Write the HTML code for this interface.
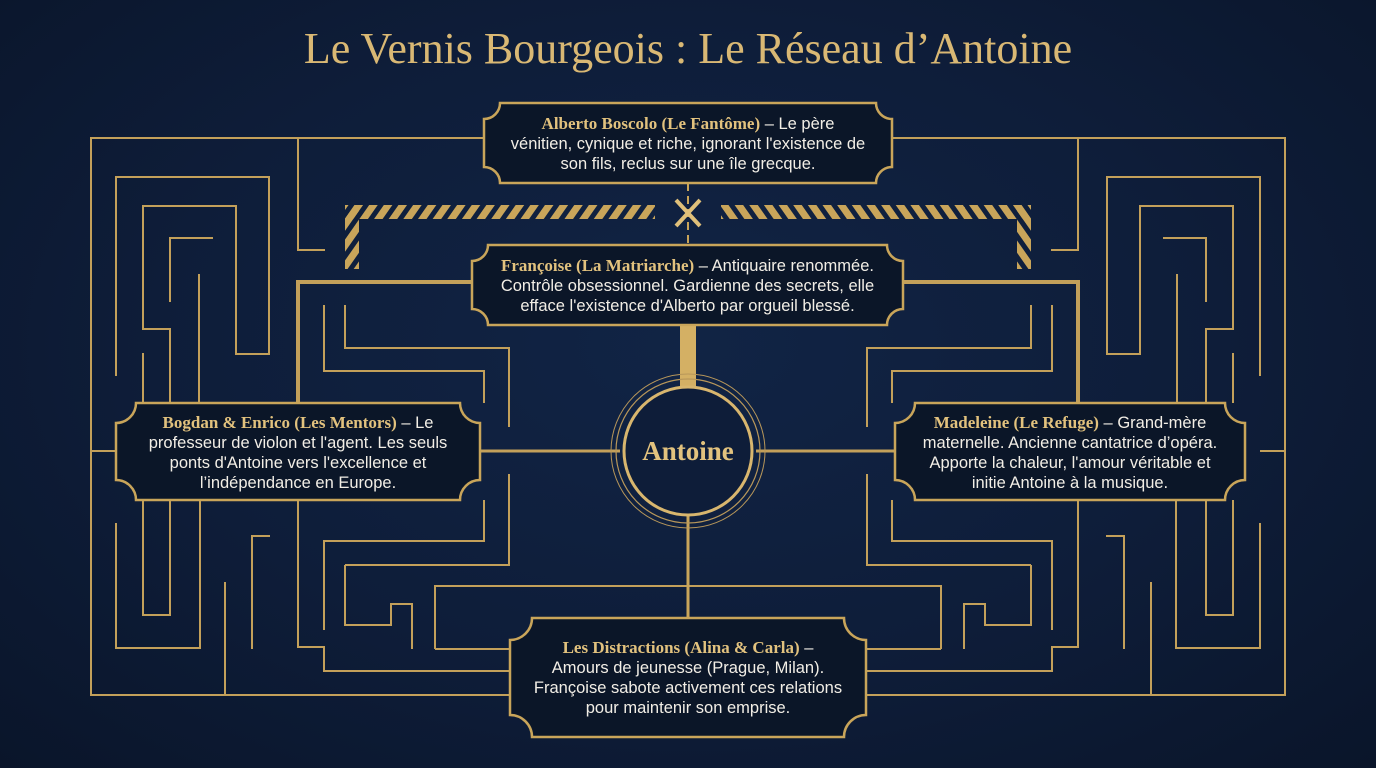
<!DOCTYPE html>
<html><head><meta charset="utf-8">
<style>
html,body{margin:0;padding:0;width:1376px;height:768px;overflow:hidden;background:#0c1a33;}
#bg{position:absolute;left:0;top:0;width:1376px;height:768px;background:radial-gradient(ellipse at 50% 45%,#112445 0%,#0e1d39 55%,#0a152a 100%);}
.t{position:absolute;color:#f2eee6;font-family:"Liberation Sans Narrow","Liberation Sans",sans-serif;font-size:16.5px;line-height:20px;text-align:center;}
.t b{font-family:"Liberation Serif",serif;color:#e2c27e;font-weight:bold;font-size:17px;}
h1{position:absolute;left:0;top:23px;width:1376px;margin:0;text-align:center;font-family:"Liberation Serif",serif;font-weight:normal;font-size:44px;color:#d9b874;}
</style></head><body>
<div id="bg"></div>
<svg width="1376" height="768" style="position:absolute;left:0;top:0">
<defs>
<pattern id="hatch" width="12" height="12" patternUnits="userSpaceOnUse" patternTransform="rotate(35)">
<rect width="7" height="12" fill="#c9a55a"/>
</pattern>
</defs>
<g id="L" fill="none" stroke="#c3a05a" stroke-width="2">
<path d="M484 138 H91 V695 H515"/>
<path d="M298 138 V250 H325"/>
<path d="M116 376 V177 H269 V354 H236 V206 H143 V329 H170 V403"/>
<path d="M170 302 V238 H213"/>
<path d="M199 274 V403"/>
<path d="M143 353 V403"/>
<path d="M298 403 V282 H472" stroke-width="4"/>
<path d="M324 305 V371 H484 V403"/>
<path d="M345 305 V348 H509 V427"/>
<path d="M91 451 H116"/>
<path d="M480 451 H620" stroke-width="3"/>
<path d="M116 523 V648 H200 V500"/>
<path d="M143 500 V615 H170 V500"/>
<path d="M252 649 V536 H270"/>
<path d="M225 582 V695"/>
<path d="M298 500 V647 H324 V671 H515"/>
<path d="M324 630 V541 H484 V500"/>
<path d="M345 565 V625 H391 V604 H412 V649"/>
<path d="M345 565 H509 V474"/>
<path d="M435 649 V586 H688"/>
<path d="M435 649 H515"/>
<rect x="345" y="205" width="310" height="14" fill="url(#hatch)" stroke="none"/>
<rect x="345" y="205" width="14" height="64" fill="url(#hatch)" stroke="none"/>
</g>
<use href="#L" transform="translate(1376,0) scale(-1,1)"/>
<path d="M688 183 V245" stroke="#c9a55a" stroke-width="2" stroke-dasharray="8,5"/>
<path d="M676 200 L700 226 M700 200 L676 226" stroke="#e0c07a" stroke-width="4"/>
<rect x="680" y="325" width="16" height="62" fill="#d4b064"/>
<path d="M688 513 V618" stroke="#c9a55a" stroke-width="3"/>
<circle cx="688" cy="451" r="77" fill="none" stroke="#b8975a" stroke-width="1"/>
<circle cx="688" cy="451" r="72" fill="none" stroke="#b8975a" stroke-width="1.2"/>
<circle cx="688" cy="451" r="64" fill="#0e1d39" stroke="#d8b66e" stroke-width="3"/>
<g fill="#0b1628" stroke="#c9a55a" stroke-width="2.5">
<path d="M500 103 H876 A16 16 0 0 0 892 119 V167 A16 16 0 0 0 876 183 H500 A16 16 0 0 0 484 167 V119 A16 16 0 0 0 500 103 Z"/>
<path d="M488 245 H887 A16 16 0 0 0 903 261 V309 A16 16 0 0 0 887 325 H488 A16 16 0 0 0 472 309 V261 A16 16 0 0 0 488 245 Z"/>
<path d="M136 403 H460 A20 20 0 0 0 480 423 V480 A20 20 0 0 0 460 500 H136 A20 20 0 0 0 116 480 V423 A20 20 0 0 0 136 403 Z"/>
<path d="M915 403 H1225 A20 20 0 0 0 1245 423 V480 A20 20 0 0 0 1225 500 H915 A20 20 0 0 0 895 480 V423 A20 20 0 0 0 915 403 Z"/>
<path d="M532 618 H844 A22 22 0 0 0 866 640 V715 A22 22 0 0 0 844 737 H532 A22 22 0 0 0 510 715 V640 A22 22 0 0 0 532 618 Z"/>
</g>
<text x="688" y="460" text-anchor="middle" font-family="Liberation Serif,serif" font-weight="bold" font-size="27" fill="#e2c27e">Antoine</text>
</svg>
<h1>Le Vernis Bourgeois : Le Réseau d’Antoine</h1>
<div class="t" style="left:484px;top:114px;width:408px"><b>Alberto Boscolo (Le Fantôme)</b> – Le père<br>vénitien, cynique et riche, ignorant l'existence de<br>son fils, reclus sur une île grecque.</div>
<div class="t" style="left:472px;top:256px;width:431px"><b>Françoise (La Matriarche)</b> – Antiquaire renommée.<br>Contrôle obsessionnel. Gardienne des secrets, elle<br>efface l'existence d'Alberto par orgueil blessé.</div>
<div class="t" style="left:116px;top:413px;width:364px"><b>Bogdan &amp; Enrico (Les Mentors)</b> – Le<br>professeur de violon et l'agent. Les seuls<br>ponts d'Antoine vers l'excellence et<br>l’indépendance en Europe.</div>
<div class="t" style="left:895px;top:413px;width:350px"><b>Madeleine (Le Refuge)</b> – Grand-mère<br>maternelle. Ancienne cantatrice d’opéra.<br>Apporte la chaleur, l'amour véritable et<br>initie Antoine à la musique.</div>
<div class="t" style="left:510px;top:638px;width:356px"><b>Les Distractions (Alina &amp; Carla)</b> –<br>Amours de jeunesse (Prague, Milan).<br>Françoise sabote activement ces relations<br>pour maintenir son emprise.</div>
</body></html>
